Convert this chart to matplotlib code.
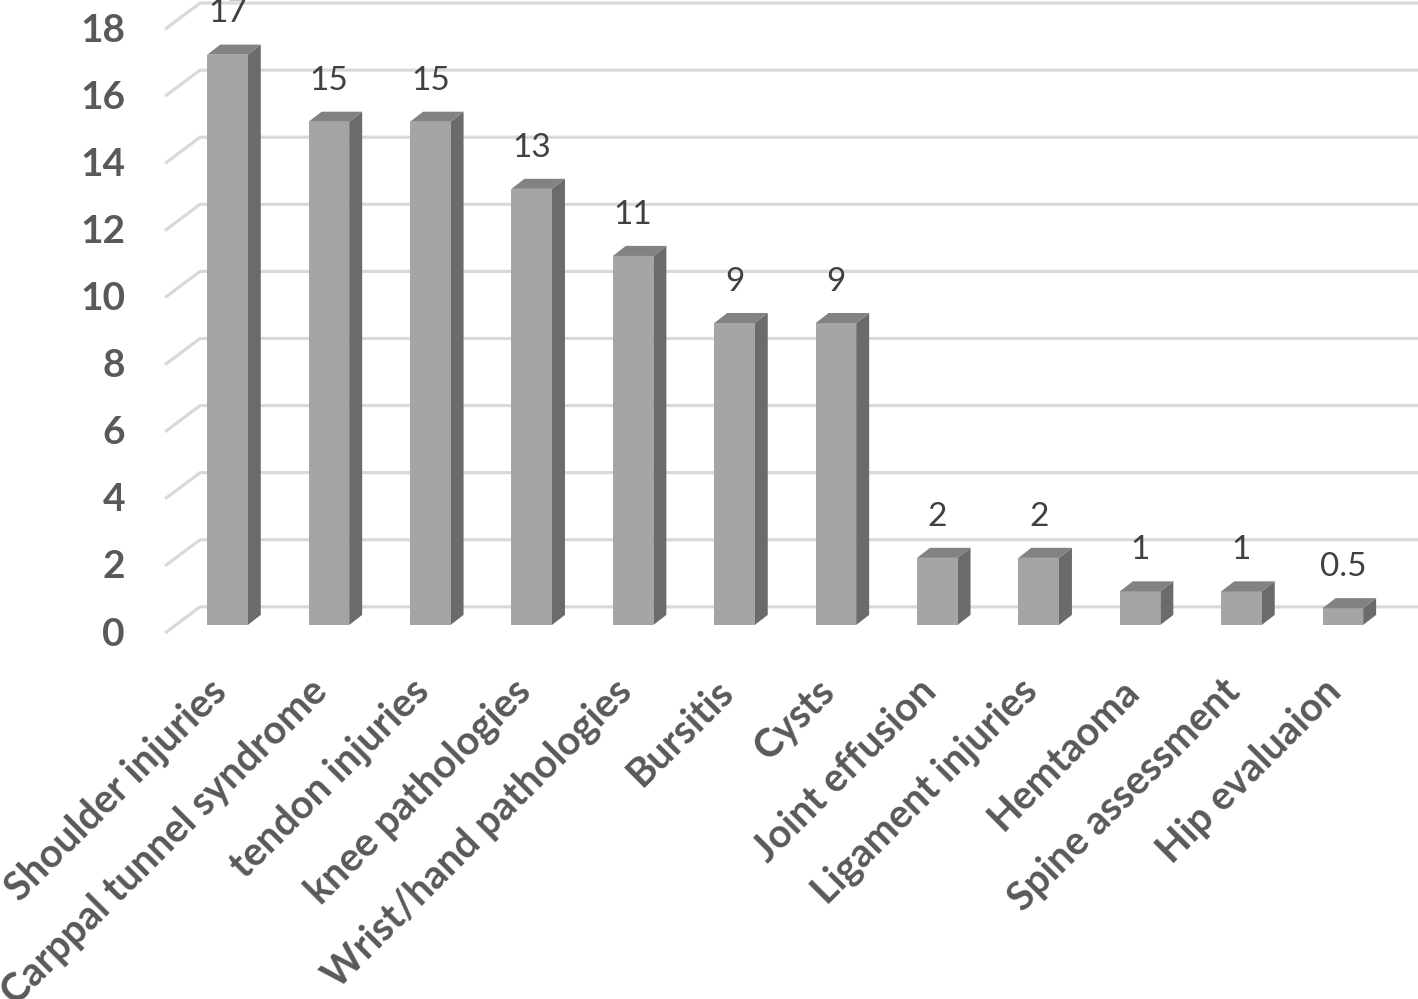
import numpy as np
import matplotlib.pyplot as plt
from matplotlib.patches import Polygon

# data
categories = ['Shoulder injuries', 'Carppal tunnel syndrome', 'tendon injuries',
              'knee pathologies', 'Wrist/hand pathologies', 'Bursitis', 'Cysts',
              'Joint effusion', 'Ligament injuries', 'Hemtaoma', 'Spine assessment',
              'Hip evaluaion']
values = [17, 15, 15, 13, 11, 9, 9, 2, 2, 1, 1, 0.5]
value_labels = ['17', '15', '15', '13', '11', '9', '9', '2', '2', '1', '1', '0.5']
yticks = [0, 2, 4, 6, 8, 10, 12, 14, 16, 18]

# fake 3d geometry (category units / value units)
bar_w = 0.40
dx, dy = 0.128, 0.30          # bar depth offset
gx0 = -0.616                   # front-left end of gridlines
gdx, gdy = 0.345, 0.78         # floor / wall depth
g_front = -0.24                # front edge of floor relative to bar front

txt = '#595959'
plt.rcParams['font.family'] = ['Lato', 'DejaVu Sans']

fig = plt.figure(figsize=(14.18, 9.99), dpi=100)
ax = fig.add_axes([0, 0, 1, 1])
ax.set_xlim(-2.244, 11.741)
ax.set_ylim(-11.15, 18.63)
ax.axis('off')

# gridlines on the back wall plus the slanted floor part
for v in yticks:
    y_front = v + g_front
    y_back = y_front + gdy
    ax.plot([gx0, gx0 + gdx, 11.8], [y_front, y_back, y_back],
            color='#d9d9d9', lw=2.3, solid_capstyle='butt', zorder=1)
    ax.text(-1.011, y_front - 0.03, str(v), ha='right', va='center',
            fontsize=28, fontweight='bold', color=txt)

for i, (v, lab) in enumerate(zip(values, value_labels)):
    l, r = i - bar_w / 2, i + bar_w / 2
    side = Polygon([(r, 0), (r, v), (r + dx, v + dy), (r + dx, dy)],
                   closed=True, fc='#6b6b6b', ec='none', zorder=3)
    front = Polygon([(l, 0), (r, 0), (r, v), (l, v)],
                    closed=True, fc='#a5a5a5', ec='none', zorder=3)
    top = Polygon([(l, v), (r, v), (r + dx, v + dy), (l + dx, v + dy)],
                  closed=True, fc='#828282', ec='none', zorder=3)
    for p in (side, front, top):
        ax.add_patch(p)
    ax.text(i, v + dy + 0.93, lab, ha='center', va='center',
            fontsize=24, color='#404040', zorder=4)

for i, c in enumerate(categories):
    ax.text(i - 0.07, -1.8, c, rotation=45, rotation_mode='anchor',
            ha='right', va='center', fontsize=28.5, fontweight='bold', color=txt)

fig.savefig('out.png', dpi=100)
